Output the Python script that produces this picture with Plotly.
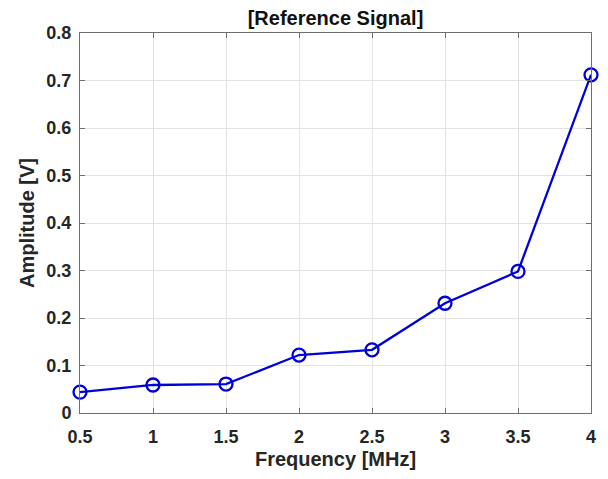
import plotly.graph_objects as go

freq = [0.5, 1.0, 1.5, 2.0, 2.5, 3.0, 3.5, 4.0]
amplitude = [0.044, 0.059, 0.061, 0.122, 0.133, 0.231, 0.298, 0.712]
x_ticks = [0.5, 1, 1.5, 2, 2.5, 3, 3.5, 4]
x_ticklabels = ["0.5", "1", "1.5", "2", "2.5", "3", "3.5", "4"]
y_ticks = [0, 0.1, 0.2, 0.3, 0.4, 0.5, 0.6, 0.7, 0.8]
y_ticklabels = ["0", "0.1", "0.2", "0.3", "0.4", "0.5", "0.6", "0.7", "0.8"]

FONT = "Liberation Sans, Arial, sans-serif"

fig = go.Figure()
fig.add_trace(go.Scatter(
    x=freq, y=amplitude, mode="lines+markers",
    line=dict(color="#0000d8", width=2.3),
    marker=dict(symbol="circle-open", size=13, color="#0000d8", line=dict(width=2.3, color="#0000d8")),
    cliponaxis=False,
))

axis_common = dict(
    showline=True, linecolor="#6e6e6e", linewidth=1, mirror="ticks",
    ticks="inside", ticklen=5, tickcolor="#6e6e6e", tickwidth=1,
    showgrid=True, gridcolor="#e3e3e3", gridwidth=1,
    zeroline=False,
    tickfont=dict(family=FONT, size=18, color="#262626", weight="bold"),
    automargin=False,
)

fig.update_xaxes(
    range=[0.5, 4], tickvals=x_ticks, ticktext=x_ticklabels,
    ticklabelstandoff=7,
    title=dict(text="<b>Frequency [MHz]</b>", font=dict(family=FONT, size=20, color="#262626"), standoff=6),
    **axis_common,
)
fig.update_yaxes(
    range=[0, 0.8], tickvals=y_ticks, ticktext=y_ticklabels,
    ticklabelstandoff=4,
    title=dict(text="<b>Amplitude [V]</b>", font=dict(family=FONT, size=20, color="#262626"), standoff=6),
    **axis_common,
)
fig.update_layout(
    width=608, height=479,
    margin=dict(l=80, r=17, t=33, b=66),
    paper_bgcolor="white", plot_bgcolor="white",
    showlegend=False,
    font=dict(family=FONT, size=18, color="#262626"),
    title=dict(text="<b>[Reference Signal]</b>", xref="paper", x=0.5, xanchor="center",
               yref="container", y=1 - 18 / 479, yanchor="middle",
               font=dict(family=FONT, size=20, color="#111111")),
)
fig.write_html("out.html", config={"displayModeBar": False},
               post_script="document.body.style.margin='0';")
